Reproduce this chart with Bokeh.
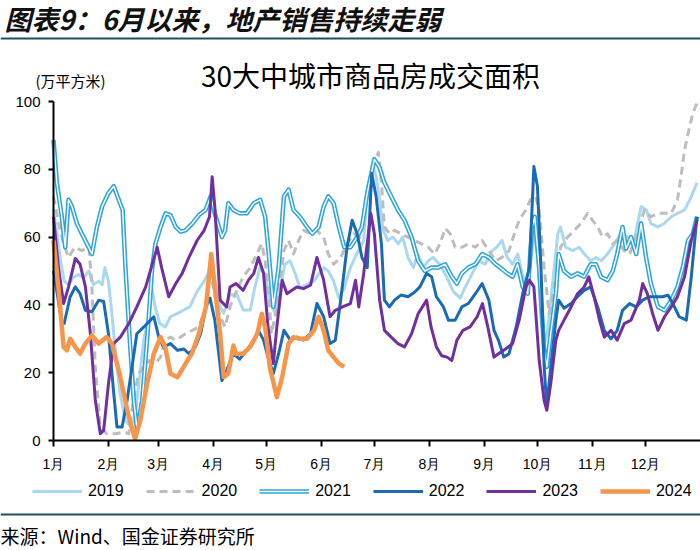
from bokeh.plotting import figure
from bokeh.models import Range1d, FixedTicker, Label, Legend, LegendItem, Span
from bokeh.embed import file_html
from bokeh.resources import INLINE

# ---------------- data (day of year, value in 万平方米) ----------------
months = ["1月", "2月", "3月", "4月", "5月", "6月", "7月", "8月", "9月", "10月", "11月", "12月"]
month_days = [0, 31, 59, 90, 120, 151, 181, 212, 243, 273, 304, 334]
years = ["2019", "2020", "2021", "2022", "2023", "2024"]

s2019 = [[0,68],[2,61],[4,53],[6,47],[8.5,46],[11,48],[14,49],[17,48],[20,50],[22.5,46],[25.5,47],[27.5,46],[29,51],[31,47],[33,37],[35,26],[37.5,14],[40.5,6],[43.5,4],[46,7],[48,16],[51,30],[54,37],[55.5,45],[57.5,39],[60,34.5],[63,33.5],[66,36.5],[70,37.5],[73.5,38.5],[77,39.5],[81,44],[85,47],[88,50],[91,47],[94,39.5],[96,37.5],[99.5,43],[103.5,43],[107,38.5],[111,38.5],[113.5,45],[116.5,51],[119.5,49],[122,41],[125,37.5],[128,45],[130.5,52],[133.5,53],[136.5,49],[139,45],[143,46],[147,47],[149.5,49],[152.5,51],[155,50],[158,47],[161,42],[164,45],[167.5,51],[171,55],[175,59],[177,74],[180,81],[182,78],[184,71],[186,62],[188.5,59],[191.5,60],[194.5,58],[197,60],[200,54],[203,51],[205.5,55],[208.5,51],[211.5,53],[214,54],[218,52],[222,48],[225.5,44],[229.5,42],[232,45],[236,49],[240,53],[243.5,52],[247.5,56],[250,57],[253,59],[256,54],[259,52],[262,55],[264.5,49],[267.5,45],[271,61],[273,55],[275,36.5],[277,28.6],[278.5,31.5],[281.5,46],[284.5,61],[286,63],[289,57],[293,56],[296.5,57],[299.5,55],[303,53],[306,54],[309,53],[312.5,55],[316.5,58],[320,61],[324,60],[327.5,59],[331.5,69],[334.5,68],[337,64],[341,63],[344.5,64],[348.5,66],[352,67],[356,68],[359,71],[363,76]]

s2020 = [[0,72],[3,64],[5.7,58],[8.5,54],[12,57],[16,56],[20,57],[21.7,45],[23.6,21.7],[26.4,4],[30,2],[35,2],[39.6,2.5],[42.5,2],[45,11.8],[48,19.7],[51,21.7],[54,23.6],[57.5,22.7],[60.4,24.6],[63,29.6],[66,30.5],[69,29.6],[71.7,30.5],[74.5,31.5],[78.3,32.5],[82,33.5],[86,39.4],[88.5,50],[90.5,44],[94,36.5],[96.8,33.5],[99.6,39.4],[103.4,44.3],[107,48.3],[111,51],[114.7,55],[117.5,58],[119.4,53],[121.3,43.3],[123,31.5],[126,39.4],[130,56],[132.6,59],[135.4,55],[138.3,59],[141,62],[145,61],[148.6,62],[152.4,60],[155,55],[158,52],[162,54],[165.6,58],[169.4,61],[173,60],[177,73],[180,80.8],[183.3,85],[185,76],[186.7,63],[189.5,61],[192.4,62],[196,61],[200,60],[203.8,59],[207.6,58],[211.4,57],[215,55],[218,58],[221,62.6],[223.8,61],[226.6,57],[230.4,57],[234,58],[238,57],[241.8,59],[245.6,56],[249.4,53],[253,54],[257,56],[260,61],[262.7,65],[266.5,68],[269,71],[272,72],[274,68],[276.8,51],[279.6,37.4],[283.4,47.3],[286,57],[290,60],[293.8,62],[297.5,64],[301.3,67],[304,65],[307,63],[309.8,60],[312.6,61],[315.5,58],[318,59],[322,56],[325,55],[327.7,59],[330.5,63],[333.4,68],[337,66],[341,67],[344.7,67],[348.5,67],[352,71],[354,77.8],[356,85.7],[358,90.6],[360.7,96.6],[363,99.5]]

s2021 = [[0,88.7],[1.9,76],[4.7,66],[6.6,57],[8.5,71],[10.4,69],[13.2,64],[16,61],[18.9,58],[21.7,55],[24.5,63],[27.4,69],[31,73],[34,75],[36.8,71],[39,68],[40.6,51],[42.8,31.5],[45.3,11.8],[47.2,3],[50,11.8],[52.8,29.6],[55.7,51],[57.5,58],[60.4,63],[63.2,67],[66,66.5],[68.9,63],[71.7,61.6],[74.5,62],[78.3,64],[82,66.5],[85.8,68],[88.7,72],[91,67],[95,60],[96.8,62],[98.6,70],[101.5,68],[105,67],[109,67],[113,70],[116.6,71],[119.4,66],[121.3,56],[124,39.4],[127,51],[130,72],[132.6,74],[135.4,68],[139,66],[143,63],[146,61],[149.6,63],[152.4,69],[155,72],[158,70],[161,63],[164,57],[167.5,57],[171.3,60],[174,63],[177,73],[181,83],[184,80.5],[186.7,76],[190.5,72],[194.3,68],[198,65],[202,60],[205.7,53],[209.5,50],[213.3,51],[217,51],[221,52],[224.7,48.3],[227.6,46.3],[230.4,49.3],[234,51],[238,52],[241.8,55],[245.6,54],[249.4,52],[252,51],[256,49.3],[259,48.3],[261.8,52],[264.7,45.3],[267.5,43.3],[270,63],[271.5,66],[274,51],[276.8,26.6],[278.3,21.7],[280.5,31.5],[283.4,43.3],[285,55],[288,50],[292,48.3],[295.6,49.3],[299.4,48.3],[303,52],[306,52],[308.8,48.3],[312.6,47.3],[315.5,50],[318,55],[321,63],[323,56.6],[325.8,60],[328.7,55],[331.5,64],[334.3,54],[337,46.3],[341,39.4],[344.7,38.4],[348.5,41.4],[352,45.3],[355,51],[358,59],[360.7,61],[363,66]]

s2022 = [[0,50],[2.5,42],[4.5,35],[6,34.5],[9.4,42.4],[12.3,45.3],[15,43.3],[18,38.4],[21.7,38],[25.5,41.4],[28.3,41],[31,31.5],[34,13.8],[35.8,4],[38.7,4],[41.5,11.8],[44.3,21.7],[47,31.5],[51,33.5],[54.7,35.5],[56.6,36.5],[59.4,30.5],[62,27.6],[66,28.6],[70,26.6],[73.6,27],[76.4,25.6],[80,27.6],[83,31.5],[86,39.4],[88.3,42],[91,35.5],[95,17.7],[97.7,20.7],[101.5,25.6],[105,24],[109,26.6],[113,29.6],[115.6,32.5],[118.5,29.6],[121,24.6],[124,19.7],[127,25.6],[130,32.5],[133.6,29.6],[137.3,30.5],[141,29.6],[145,31.5],[148.6,40.4],[152.4,36.5],[156,28.6],[159,29.6],[162,41.4],[165.6,57],[168.5,65],[171.3,61],[174,54],[177,51],[179.5,78.8],[182,72],[185,58],[186.7,41.4],[189.5,39.4],[192.4,41.4],[196,42.9],[200,42.4],[203.8,43.8],[206.7,45.3],[210.5,49.3],[213.3,48.3],[216,42.4],[220,39.4],[222.8,35.5],[226.6,35.5],[230.4,39.4],[234,40.4],[238,43.3],[241.8,46.3],[245.6,41.4],[248.5,32.5],[251,29.6],[254,24.6],[257,25.6],[261,33.5],[264.7,43.3],[268.5,51],[271,80.8],[273,75],[275,51],[276.8,21.7],[278.3,9.9],[280.5,21.7],[283.4,35.5],[285,41.4],[288,39],[292,40.4],[295.6,42.4],[299.4,44.3],[303,45.3],[307,39.4],[310.7,32.5],[314.5,30],[318,32.5],[321,38.4],[325,40.4],[328.7,39.4],[332.4,41.4],[336,42.4],[340,42.4],[343.7,42.4],[346.6,42.9],[349.4,40.4],[353,36.5],[357,35.5],[359.8,48.3],[363,66]]

s2023 = [[0,66],[2.8,51],[5.7,40.4],[8.5,45.3],[12.3,53.7],[15,52],[18,45.3],[20.8,31.5],[23.6,11.8],[26.4,2],[28.3,3],[31,16.7],[34,28.6],[37.7,30.5],[42.5,34.5],[47,39.4],[52,45.3],[55.7,52],[58.5,57],[61,51],[65,42.4],[69,46.3],[72.6,49.3],[76.4,54],[81,59],[85,62],[88,66],[89.5,77.8],[91,69],[94,41.4],[97.7,39.4],[99.6,45.3],[103,46.3],[107,44.3],[110,47.3],[113,49.3],[115.6,54],[118.5,49.3],[121,33.5],[124,22.7],[126,33.5],[129,47.3],[131.7,43.3],[134.5,44.3],[137.3,45.3],[141,44.8],[145,45.8],[148.6,54],[152.4,47.3],[156,36.5],[159,38.4],[163,39.4],[167.5,40.4],[170.4,47.3],[172.2,39.4],[175,49.3],[179,67],[181,61],[184,41.4],[186.7,32.5],[190.5,30.5],[194.3,28.6],[198,27.6],[202,31.5],[205.7,37.4],[210.5,41.4],[213,33.5],[216,27.6],[219,25],[222,24.6],[224.7,23.6],[227.6,29.6],[231,32.5],[235,33.5],[239,36.5],[242,40.4],[245,33.5],[248.5,24.6],[251,25.6],[255,27],[259,28.6],[262.7,35.5],[266.5,45.3],[268.5,47.3],[271,45.3],[274,23.6],[276.8,11.8],[278.3,8.9],[280.5,16.7],[283.4,29.6],[285,32.5],[288,35.5],[292,39.4],[295.6,43.3],[299.4,45.3],[302,48.3],[305,42.4],[308,35.5],[310.7,30.5],[314.5,32.5],[318,29.6],[322,34.5],[325.8,35.5],[330.5,41.4],[332.4,46.3],[335,43.3],[338,37.4],[341,32.5],[344.7,36.5],[348.5,39.4],[352,42.4],[356,48.3],[359.8,59],[363,65]]

s2024 = [[0,59],[2.8,45],[5.7,27.6],[7.5,26.6],[9.4,30],[12.3,27.6],[15,25.6],[18,28.6],[21.7,31],[25.5,28.6],[30,30.5],[33,28.6],[37.7,18.7],[42.5,6.9],[46,0.5],[49,6],[52.8,16.7],[56.6,25.6],[60.4,30.5],[63,27.6],[66,19.7],[70,18.7],[74.5,22.7],[78,25.6],[82,31.5],[86,39.4],[89,55],[91,45.3],[94,31.5],[96,18.7],[98.6,19.7],[101.5,28],[103,25.6],[107,25.6],[111,27.6],[115,31.5],[117.5,37.4],[119.4,33.5],[122,21.7],[126,12.8],[129,18.7],[132.6,28.6],[135.4,30.5],[139,30],[143,30],[147,32.5],[149.6,36.5],[152.4,32.5],[155,26.6],[158,24.6],[161,22.7],[164,21.7]]

y_ticks = [0, 20, 40, 60, 80, 100]
days_in_year = 365

header = "图表9：6月以来，地产销售持续走弱"
chart_title = "30大中城市商品房成交面积"
unit_text = "(万平方米)"
source_text = "来源：Wind、国金证券研究所"

# ---------------- layout (screen px) ----------------
colors = ["#ABD8F1", "#BDBDBD", "#2EA5DF", "#1A6BB5", "#7030A0", "#F7964A"]
RULE = "#1E5060"
W, H = 700, 550
AX_X = 53          # pixel column of day 0
AX_Y = 440         # pixel row of value 0
TOP_Y = 101        # pixel row of value 100
XPPD = (W - AX_X) / days_in_year
YPPU = (AX_Y - TOP_Y) / 100.0


def dx(px):
    return (px - AX_X) / XPPD


def dy(py):
    return (AX_Y - py) / YPPU


p = figure(width=W, height=H, output_backend="svg", toolbar_location=None,
           x_range=Range1d(dx(0), dx(W)), y_range=Range1d(dy(H), dy(0)),
           min_border_left=0, min_border_right=0, min_border_top=0, min_border_bottom=0)
p.outline_line_color = None
p.xgrid.visible = False
p.ygrid.visible = False
p.background_fill_color = "white"
p.border_fill_color = "white"


def split(s):
    return [a for a, b in s], [b for a, b in s]


x19, y19 = split(s2019)
x20, y20 = split(s2020)
x21, y21 = split(s2021)
x22, y22 = split(s2022)
x23, y23 = split(s2023)
x24, y24 = split(s2024)

r19 = p.line(x19, y19, line_color=colors[0], line_width=3, line_join="round")
r20 = p.line(x20, y20, line_color=colors[1], line_width=3, line_dash="8 5", line_join="round")
r21a = p.line(x21, y21, line_color=colors[2], line_width=4.5, line_join="round")
r21b = p.line(x21, y21, line_color="white", line_width=1.4, line_join="round")
r22 = p.line(x22, y22, line_color=colors[3], line_width=3, line_join="round")
r23 = p.line(x23, y23, line_color=colors[4], line_width=3, line_join="round")
r24 = p.line(x24, y24, line_color=colors[5], line_width=4.5, line_join="round")

# axes drawn at the data origin
for ax in (p.xaxis, p.yaxis):
    ax.fixed_location = 0
    ax.axis_line_color = "black"
    ax.axis_line_width = 2
    ax.major_tick_line_color = "black"
    ax.major_tick_line_width = 2
    ax.major_tick_in = 0
    ax.minor_tick_line_color = None
    ax.major_label_text_color = "black"
    ax.major_label_text_font = "Liberation Sans"

p.xaxis.bounds = (0, days_in_year)
p.xaxis.ticker = FixedTicker(ticks=month_days)
p.xaxis.major_label_overrides = {d: m for d, m in zip(month_days, months)}
p.xaxis.major_tick_out = 6
p.xaxis.major_label_text_font_size = "14px"
p.xaxis.major_label_standoff = 9

p.yaxis.bounds = (0, 100)
p.yaxis.ticker = FixedTicker(ticks=y_ticks)
p.yaxis.major_tick_out = 5
p.yaxis.major_label_text_font_size = "15px"
p.yaxis.major_label_standoff = 8

# legend
items = [
    LegendItem(label=years[0], renderers=[r19]),
    LegendItem(label=years[1], renderers=[r20]),
    LegendItem(label=years[2], renderers=[r21a, r21b]),
    LegendItem(label=years[3], renderers=[r22]),
    LegendItem(label=years[4], renderers=[r23]),
    LegendItem(label=years[5], renderers=[r24]),
]
legend = Legend(items=items, orientation="horizontal", location=(32, H - 501),
                glyph_width=50, glyph_height=20, label_height=20,
                label_standoff=6, spacing=22, padding=0, margin=0,
                border_line_color=None, background_fill_alpha=0,
                label_text_font="Liberation Sans", label_text_font_size="16px",
                label_text_color="black")
p.add_layout(legend, "center")

# texts
p.add_layout(Label(x=dx(4), y=dy(18), text=header, text_align="left", text_baseline="middle",
                   text_font="Noto Sans CJK SC", text_font_size="27px",
                   text_font_style="bold italic", text_color="#111111"))
p.add_layout(Label(x=dx(370), y=dy(74), text=chart_title, text_align="center",
                   text_baseline="middle", text_font="Noto Sans CJK SC",
                   text_font_size="28px", text_color="black"))
p.add_layout(Label(x=dx(70), y=dy(80), text=unit_text, text_align="center",
                   text_baseline="middle", text_font="Noto Sans CJK SC",
                   text_font_size="15px", text_color="black"))
p.add_layout(Label(x=dx(0), y=dy(535), text=source_text, text_align="left",
                   text_baseline="middle", text_font="Noto Sans CJK SC",
                   text_font_size="19px", text_color="black"))

# separator rules
p.add_layout(Span(location=dy(38), dimension="width", line_color=RULE, line_width=2))
p.add_layout(Span(location=dy(514), dimension="width", line_color=RULE, line_width=2))

open("out.html", "w").write(file_html(p, INLINE))
